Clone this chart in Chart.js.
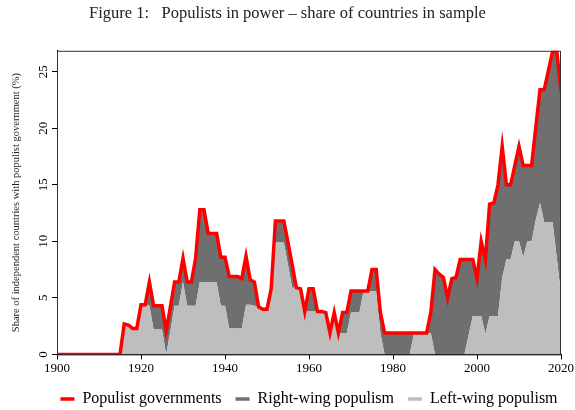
<!DOCTYPE html>
<html>
<head>
<meta charset="utf-8">
<script src="https://cdn.jsdelivr.net/npm/chart.js@4.4.1/dist/chart.umd.min.js"></script>
<style>
  html, body { margin: 0; padding: 0; background: #fff; }
  #contenedor { width: 575px; height: 410px; }
</style>
</head>
<body>
<div id="contenedor"><canvas id="grafico"></canvas></div>
<script>
// Años de la muestra
const years = [];
for (let a = 1900; a <= 2020; a++) years.push(a);

// Share of countries with populist government (%), one value per year
const populistTotal = [
  0, 0, 0, 0, 0, 0, 0, 0, 0, 0,                          // 1900s
  0, 0, 0, 0, 0, 0, 2.7, 2.6, 2.3, 2.3,                  // 1910s
  4.4, 4.4, 6.4, 4.3, 4.3, 4.3, 2.1, 4.2, 6.4, 6.4,      // 1920s
  8.5, 6.4, 6.4, 8.5, 12.8, 12.8, 10.7, 10.7, 10.7, 8.6, // 1930s
  8.6, 6.9, 6.9, 6.9, 6.7, 8.7, 6.6, 6.4, 4.2, 4.0,      // 1940s
  4.0, 5.8, 11.8, 11.8, 11.8, 9.9, 7.9, 5.9, 5.8, 3.8,   // 1950s
  5.8, 5.8, 3.8, 3.8, 3.7, 1.9, 3.7, 1.9, 3.7, 3.7,      // 1960s
  5.6, 5.6, 5.6, 5.6, 5.6, 7.5, 7.5, 3.7, 1.9, 1.9,      // 1970s
  1.9, 1.9, 1.9, 1.9, 1.9, 1.9, 1.9, 1.9, 1.9, 3.7,      // 1980s
  7.5, 7.1, 6.8, 5.0, 6.7, 6.8, 8.4, 8.4, 8.4, 8.4,      // 1990s
  6.7, 10.0, 8.4, 13.3, 13.4, 15.0, 18.4, 15.0, 15.0, 16.7,   // 2000s
  18.4, 16.7, 16.7, 16.7, 20.1, 23.4, 23.4, 25.1, 26.8, 26.8, // 2010s
  23.3                                                    // 2020
];

const leftWing = [
  0, 0, 0, 0, 0, 0, 0, 0, 0, 0,
  0, 0, 0, 0, 0, 0, 2.7, 2.6, 2.3, 2.3,
  4.4, 4.4, 4.3, 2.2, 2.2, 2.2, 0, 2.1, 4.3, 4.3,
  6.4, 4.3, 4.3, 4.3, 6.4, 6.4, 6.4, 6.4, 6.4, 4.3,
  4.3, 2.3, 2.3, 2.3, 2.3, 4.4, 4.4, 4.3, 4.2, 4.0,
  4.0, 5.8, 9.9, 9.9, 9.9, 7.9, 5.9, 5.9, 5.8, 3.8,
  3.8, 3.8, 3.8, 3.8, 3.7, 1.9, 3.7, 1.9, 1.9, 1.9,
  3.7, 3.7, 3.7, 5.6, 5.6, 5.6, 5.6, 1.9, 0, 0,
  0, 0, 0, 0, 0, 1.9, 1.9, 1.9, 1.9, 1.9,
  0, 0, 0, 0, 0, 0, 0, 0, 1.7, 3.4,
  3.4, 3.4, 1.8, 3.4, 3.4, 3.4, 6.8, 8.4, 8.4, 10.0,
  10.0, 8.6, 10.0, 10.0, 11.9, 13.4, 11.7, 11.7, 11.7, 8.5,
  5.3
];

const rightWing = [
  0, 0, 0, 0, 0, 0, 0, 0, 0, 0,
  0, 0, 0, 0, 0, 0, 0, 0, 0, 0,
  0, 0, 2.1, 2.1, 2.1, 2.1, 2.1, 2.1, 2.1, 2.1,
  2.1, 2.1, 2.1, 4.2, 6.4, 6.4, 4.3, 4.3, 4.3, 4.3,
  4.3, 4.6, 4.6, 4.6, 4.4, 4.3, 2.2, 2.1, 0, 0,
  0, 0, 1.9, 1.9, 1.9, 2.0, 2.0, 0, 0, 0,
  2.0, 2.0, 0, 0, 0, 0, 0, 0, 1.8, 1.8,
  1.9, 1.9, 1.9, 0, 0, 1.9, 1.9, 1.8, 1.9, 1.9,
  1.9, 1.9, 1.9, 1.9, 1.9, 0, 0, 0, 0, 1.8,
  7.5, 7.1, 6.8, 5.0, 6.7, 6.8, 8.4, 8.4, 6.7, 5.0,
  3.3, 6.6, 6.6, 9.9, 10.0, 11.6, 11.6, 6.6, 6.6, 6.7,
  8.4, 8.1, 6.7, 6.7, 8.2, 10.0, 11.7, 13.4, 15.1, 18.3,
  18.0
];

// Etiquetas del eje Y (se dibujan giradas)
const yTicks = [0, 5, 10, 15, 20, 25];

const serif = '"Liberation Serif", "Times New Roman", serif';
const colores = { total: '#ff0000', right: '#6f6f6f', left: '#bebebe' };

function puntos(valores) {
  return years.map((a, i) => ({ x: a, y: valores[i] }));
}

// Marco del área y etiquetas del eje Y giradas
const marcoPlugin = {
  id: 'marco',
  afterDatasetsDraw(chart) {
    const c = chart.ctx;
    const area = chart.chartArea;
    c.save();
    c.strokeStyle = '#333';
    c.lineWidth = 1;
    c.strokeRect(area.left + 0.5, area.top + 0.5, area.right - area.left - 1, area.bottom - area.top);

    const ys = chart.scales.y;
    c.fillStyle = '#000';
    c.font = '13px ' + serif;
    c.textAlign = 'center';
    c.textBaseline = 'middle';
    yTicks.forEach(v => {
      c.save();
      c.translate(44, ys.getPixelForValue(v));
      c.rotate(-Math.PI / 2);
      c.fillText(String(v), 0, 0);
      c.restore();
    });
    c.restore();
  }
};

// Altura fija de la leyenda y centrada sobre el área del gráfico
const leyendaPlugin = {
  id: 'leyendaAjuste',
  beforeInit(chart) {
    const fitOrig = chart.legend.fit;
    chart.legend.fit = function () {
      fitOrig.bind(chart.legend)();
      this.height = 33;
    };
  },
  afterLayout(chart) {
    const lg = chart.legend;
    const area = chart.chartArea;
    const shift = (area.left + area.right) / 2 - (lg.left + lg.right) / 2;
    lg.left += shift;
    lg.right += shift;
  }
};

const ordenLeyenda = [0, 2, 1];

new Chart(document.getElementById('grafico').getContext('2d'), {
  type: 'line',
  data: {
    datasets: [
      {
        label: 'Populist governments',
        data: puntos(populistTotal),
        borderColor: colores.total,
        backgroundColor: colores.total,
        borderWidth: 3.5,
        pointRadius: 0,
        tension: 0,
        fill: false,
        stack: 'total'
      },
      {
        label: 'Left-wing populism',
        data: puntos(leftWing),
        borderColor: colores.left,
        backgroundColor: colores.left,
        borderWidth: 0,
        pointRadius: 0,
        tension: 0,
        fill: 'origin',
        stack: 'wings'
      },
      {
        label: 'Right-wing populism',
        data: puntos(rightWing),
        borderColor: colores.right,
        backgroundColor: colores.right,
        borderWidth: 0,
        pointRadius: 0,
        tension: 0,
        fill: '-1',
        stack: 'wings'
      }
    ]
  },
  options: {
    responsive: true,
    maintainAspectRatio: false,
    animation: false,
    layout: { padding: { left: 0, right: 0, top: 0, bottom: 0 } },
    plugins: {
      title: {
        display: true,
        text: 'Figure 1:   Populists in power \u2013 share of countries in sample',
        font: { family: serif, size: 16.5, weight: 'normal' },
        color: '#222',
        padding: { top: 4, bottom: 27 }
      },
      legend: {
        position: 'bottom',
        labels: {
          font: { family: serif, size: 16 },
          color: '#000',
          usePointStyle: true,
          pointStyleWidth: 14,
          padding: 14,
          sort: (a, b) => ordenLeyenda.indexOf(a.datasetIndex) - ordenLeyenda.indexOf(b.datasetIndex),
          generateLabels(chart) {
            return chart.data.datasets.map((ds, i) => ({
              text: ds.label,
              datasetIndex: i,
              pointStyle: 'line',
              strokeStyle: ds.borderColor,
              fillStyle: ds.borderColor,
              lineWidth: 3.5,
              fontColor: '#000',
              hidden: false
            }));
          }
        }
      },
      tooltip: { enabled: false }
    },
    scales: {
      x: {
        type: 'linear',
        min: 1900,
        max: 2020,
        ticks: {
          stepSize: 20,
          callback: v => String(v),
          font: { family: serif, size: 13 },
          color: '#000',
          padding: 1,
          maxRotation: 0
        },
        grid: { drawOnChartArea: false, tickLength: 5, color: '#000' },
        border: { color: '#000' }
      },
      y: {
        type: 'linear',
        stacked: true,
        min: 0,
        max: 26.85,
        ticks: { display: false, stepSize: 5, includeBounds: false },
        grid: { drawOnChartArea: false, tickLength: 5, color: '#000' },
        border: { color: '#000' },
        title: {
          display: true,
          text: 'Share of independent countries with populist government (%)',
          font: { family: serif, size: 10.5 },
          color: '#222',
          padding: { top: 10, bottom: 0 }
        },
        afterFit(scale) { scale.width = 57; }
      }
    }
  },
  plugins: [marcoPlugin, leyendaPlugin]
});
</script>
</body>
</html>
